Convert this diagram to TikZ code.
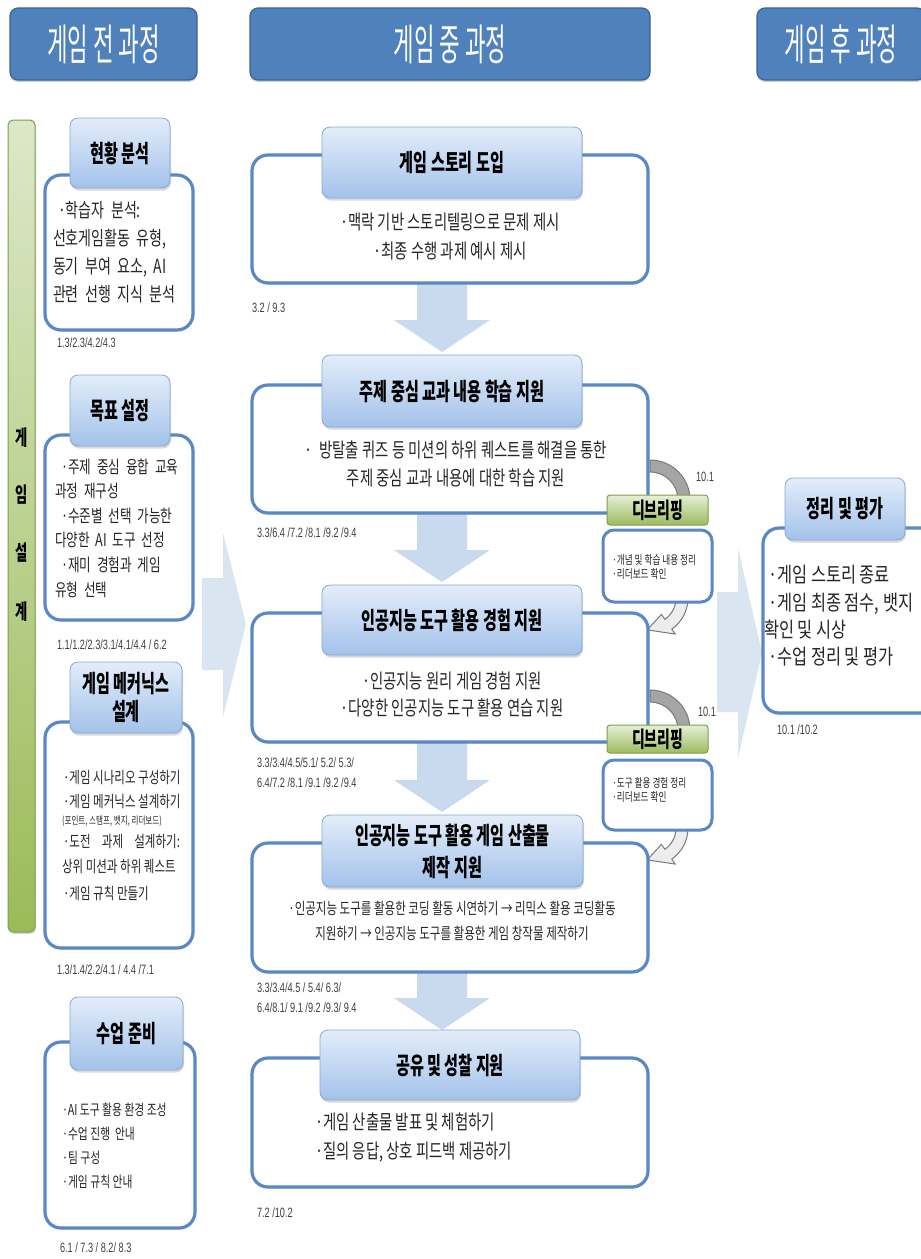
\documentclass[tikz,border=0pt]{standalone}
\usepackage{fontspec}
\usetikzlibrary{calc,shadows}
\newfontfamily\krH[FakeStretch=0.52]{Noto Sans CJK KR}
\newfontfamily\krB[FakeStretch=0.63]{Noto Sans CJK KR}
\newfontfamily\krT[FakeStretch=0.72]{Noto Sans CJK KR}
\newfontfamily\krR[FakeStretch=0.78]{Noto Sans CJK KR}
\newfontfamily\numf[FakeStretch=0.68]{Liberation Sans}
\definecolor{hdrblue}{HTML}{4F81BD}
\definecolor{hdrdark}{HTML}{3B6296}
\definecolor{subtop}{HTML}{E3EDFA}
\definecolor{subbot}{HTML}{A3C2EA}
\definecolor{subline}{HTML}{86A8D6}
\definecolor{bodyblue}{HTML}{5A87C5}
\definecolor{arrowlight}{HTML}{DAE5F2}
\definecolor{arrowmid}{HTML}{C9DAEF}
\definecolor{gbtop}{HTML}{DCE8C8}
\definecolor{gbbot}{HTML}{9BBB59}
\definecolor{gbline}{HTML}{7F9E4C}
\definecolor{dbtop}{HTML}{E6EFD6}
\definecolor{dbbot}{HTML}{9CBC5E}
\definecolor{numgray}{HTML}{404040}
\definecolor{txtdark}{HTML}{262626}
\definecolor{arcdark}{HTML}{A5A5A5}
\definecolor{arcline}{HTML}{7A7A7A}
\definecolor{arclight}{HTML}{EDEDED}
\newcommand\dnarrow[3]{\fill[downarrow] (#1-25,#2) -- (#1+25,#2) -- (#1+25,#3-32) -- (#1+48,#3-32) -- (#1,#3) -- (#1-48,#3-32) -- (#1-25,#3-32) -- cycle;}
\begin{document}
\begin{tikzpicture}[x=1pt,y=-1pt,
  every node/.style={inner sep=0pt, outer sep=0pt},
  topbox/.style={fill=hdrblue, draw=hdrdark, line width=1.2pt, rounded corners=8pt,
     drop shadow={opacity=0.35, shadow xshift=0pt, shadow yshift=-2pt},
     text=white, font=\krH\fontsize{43}{46}\selectfont},
  subhdr/.style={draw=subline, line width=0.8pt, rounded corners=8pt, top color=subtop, bottom color=subbot,
     drop shadow={opacity=0.3, shadow xshift=1pt, shadow yshift=-2.5pt},
     text=black, align=center, font=\krB\bfseries\fontsize{24}{31}\selectfont},
  bodybox/.style={draw=bodyblue, line width=3.2pt, rounded corners=16pt, fill=white,
     drop shadow={opacity=0.2, shadow xshift=1pt, shadow yshift=-1.5pt}},
  smallbody/.style={draw=bodyblue, line width=3pt, rounded corners=11pt, fill=white},
  greenbar/.style={draw=gbline, line width=1pt, rounded corners=5pt, top color=gbtop, bottom color=gbbot,
     drop shadow={opacity=0.3, shadow xshift=1pt, shadow yshift=-2pt}},
  debrief/.style={draw=gbline, line width=1pt, rounded corners=3pt, top color=dbtop, bottom color=dbbot,
     text=black, font=\krB\bfseries\fontsize{22}{26}\selectfont},
  bigarrow/.style={fill=arrowlight, draw=none},
  downarrow/.style={fill=arrowmid, draw=none},
  curvedark/.style={fill=arcdark, draw=arcline, line width=1pt},
  curvelight/.style={fill=arclight, draw=arcline, line width=1pt},
  numtext/.style={font=\numf\fontsize{13.5}{20}\selectfont, text=numgray, anchor=west, align=left},
  bodytext/.style={text=txtdark, font=\krT\fontsize{20}{29}\selectfont},
  bartext/.style={text=black, font=\krB\bfseries\fontsize{21}{24}\selectfont}
]
\useasboundingbox (0,0) rectangle (921,1259);
\fill[white] (0,0) rectangle (921,1259);

% big side arrows
\fill[bigarrow] (202,578) -- (223,578) -- (223,533) -- (246,624) -- (223,717) -- (223,670) -- (202,670) -- cycle;
\fill[bigarrow] (717,592) -- (738,592) -- (738,548) -- (762,653) -- (738,758) -- (738,712) -- (717,712) -- cycle;

% down arrows
\dnarrow{442}{283}{352}
\dnarrow{442}{513}{582}
\dnarrow{442}{742}{812}
\dnarrow{442}{972}{1030}

% curved arrows around debriefing
\coordinate (c1) at (650,500);
\filldraw[curvedark] ($(c1)+(-90:40)$) arc[start angle=-90,end angle=0,radius=40] -- ($(c1)+(0:28)$) arc[start angle=0,end angle=-90,radius=28] -- cycle;
\coordinate (c2) at (650,598);
\filldraw[curvelight] ($(c2)+(0:38)$) arc[start angle=0,end angle=55,radius=38] -- ($(c2)+(55:44)$) -- ($(c2)+(95:32)$) -- ($(c2)+(55:20)$) -- ($(c2)+(55:26)$) arc[start angle=55,end angle=0,radius=26] -- cycle;
\coordinate (c3) at (650,730);
\filldraw[curvedark] ($(c3)+(-90:40)$) arc[start angle=-90,end angle=0,radius=40] -- ($(c3)+(0:28)$) arc[start angle=0,end angle=-90,radius=28] -- cycle;
\coordinate (c4) at (650,828);
\filldraw[curvelight] ($(c4)+(0:38)$) arc[start angle=0,end angle=55,radius=38] -- ($(c4)+(55:44)$) -- ($(c4)+(95:32)$) -- ($(c4)+(55:20)$) -- ($(c4)+(55:26)$) arc[start angle=55,end angle=0,radius=26] -- cycle;

% top headers
\node[topbox, minimum width=187pt, minimum height=72pt] (th1) at (103.5,44) {게임 전 과정};
\node[topbox, minimum width=400pt, minimum height=72pt] (th2) at (450,44) {게임 중 과정};
\node[topbox, minimum width=168pt, minimum height=72pt] (th3) at (841,44) {게임 후 과정};

% green bar
\node[greenbar, minimum width=27pt, minimum height=812pt] (bar) at (21.5,526) {};
\node[bartext] (bar1) at (22,438) {게};
\node[bartext] (bar2) at (22,495) {임};
\node[bartext] (bar3) at (22,553) {설};
\node[bartext] (bar4) at (22,612) {계};

% left column boxes
\node[bodybox, minimum width=148pt, minimum height=155pt] (b1) at (119,252.5) {};
\node[subhdr, minimum width=100pt, minimum height=70pt] (h1) at (120,153) {현황 분석};
\node[bodybox, minimum width=148pt, minimum height=185pt] (b2) at (119,527.5) {};
\node[subhdr, minimum width=100pt, minimum height=71pt] (h2) at (120,410.5) {목표 설정};
\node[bodybox, minimum width=148pt, minimum height=226pt] (b3) at (119,835) {};
\node[subhdr, minimum width=112pt, minimum height=71pt, font=\krB\bfseries\fontsize{24}{28}\selectfont] (h3) at (126,697.5) {게임 메커닉스\\설계};
\node[bodybox, minimum width=150pt, minimum height=186pt] (b4) at (120,1135) {};
\node[subhdr, minimum width=113pt, minimum height=73pt] (h4) at (126.5,1033.5) {수업 준비};

% left texts
\node[bodytext, font=\krT\fontsize{19.5}{28}\selectfont, text width=130pt, align=left] (t1) at (118,252) {%
\makebox[130pt][s]{\hspace*{5pt}·학습자 분석:}\\
\makebox[130pt][s]{선호게임활동 유형,}\\
\makebox[130pt][s]{동기 부여 요소, AI}\\
\makebox[130pt][s]{관련 선행 지식 분석}};
\node[bodytext, font=\krT\fontsize{17.5}{24.6}\selectfont, text width=125pt, align=left] (t2) at (117.5,528) {%
\makebox[125pt][s]{\hspace*{6pt}·주제 중심 융합 교육}\\
과정 재구성\\
\makebox[125pt][s]{\hspace*{6pt}·수준별 선택 가능한}\\
다양한 AI 도구 선정\\
\makebox[125pt][s]{\hspace*{6pt}·재미 경험과 게임}\\
유형 선택};
\node[bodytext, font=\krT\fontsize{16}{20}\selectfont, anchor=west] (t3a) at (63,778) {·게임 시나리오 구성하기};
\node[bodytext, font=\krT\fontsize{16}{20}\selectfont, anchor=west] (t3b) at (63,802) {·게임 메커닉스 설계하기};
\node[bodytext, font=\krT\fontsize{10.5}{12}\selectfont, anchor=west] (t3c) at (62,821) {(포인트, 스탬프, 뱃지, 리더보드)};
\node[bodytext, font=\krT\fontsize{16}{20}\selectfont, anchor=west] (t3d) at (63,841) {\makebox[117pt][s]{·도전 과제 설계하기:}};
\node[bodytext, font=\krT\fontsize{16}{20}\selectfont, anchor=west] (t3e) at (62,867) {상위 미션과 하위 퀘스트};
\node[bodytext, font=\krT\fontsize{16}{20}\selectfont, anchor=west] (t3f) at (63,893) {·게임 규칙 만들기};
\node[bodytext, font=\krT\fontsize{15}{24}\selectfont, anchor=west, align=left] (t4) at (62,1146) {·AI 도구 활용 환경 조성\\·수업 진행 \ 안내\\·팀 구성\\·게임 규칙 안내};

% left numbers
\node[numtext] (n1) at (57,343) {1.3/2.3/4.2/4.3};
\node[numtext] (n2) at (57,645) {1.1/1.2/2.3/3.1/4.1/4.4 / 6.2};
\node[numtext] (n3) at (57,970) {1.3/1.4/2.2/4.1 / 4.4 /7.1};
\node[numtext] (n4) at (60,1248) {6.1 / 7.3 / 8.2/ 8.3};

% middle column boxes
\node[bodybox, minimum width=396pt, minimum height=128pt] (mb1) at (450,219) {};
\node[subhdr, minimum width=260pt, minimum height=71pt] (mh1) at (452,162.5) {게임 스토리 도입};
\node[bodybox, minimum width=396pt, minimum height=128pt] (mb2) at (450,449) {};
\node[subhdr, minimum width=260pt, minimum height=72pt] (mh2) at (452,391) {주제 중심 교과 내용 학습 지원};
\node[bodybox, minimum width=396pt, minimum height=129pt] (mb3) at (450,677.5) {};
\node[subhdr, minimum width=260pt, minimum height=70pt] (mh3) at (452,620) {인공지능 도구 활용 경험 지원};
\node[bodybox, minimum width=396pt, minimum height=129pt] (mb4) at (450,907.5) {};
\node[subhdr, minimum width=261pt, minimum height=72pt, font=\krB\bfseries\fontsize{24}{32}\selectfont] (mh4) at (452.5,851) {인공지능 도구 활용 게임 산출물\\제작 지원};
\node[bodybox, minimum width=396pt, minimum height=129pt] (mb5) at (450,1122.5) {};
\node[subhdr, minimum width=260pt, minimum height=70pt] (mh5) at (450,1065) {공유 및 성찰 지원};

% middle texts
\node[bodytext, align=center] (mt1) at (450,237) {·맥락 기반 스토리텔링으로 문제 제시\\·최종 수행 과제 예시 제시};
\node[bodytext, align=center, font=\krT\fontsize{20}{28}\selectfont] (mt2) at (456,464) {·\ \ 방탈출 퀴즈 등 미션의 하위 퀘스트를 해결을 통한\\주제 중심 교과 내용에 대한 학습 지원};
\node[bodytext, align=center, font=\krT\fontsize{20}{27}\selectfont] (mt3) at (452,694) {·인공지능 원리 게임 경험 지원\\·다양한 인공지능 도구 활용 연습 지원};
\node[bodytext, align=center, font=\krT\fontsize{16}{25}\selectfont] (mt4) at (452,920.5) {·인공지능 도구를 활용한 코딩 활동 시연하기 → 리믹스 활용 코딩활동\\지원하기 → 인공지능 도구를 활용한 게임 창작물 제작하기};
\node[bodytext, anchor=west, align=left] (mt5) at (315,1137.5) {·게임 산출물 발표 및 체험하기\\·질의 응답, 상호 피드백 제공하기};

% middle numbers
\node[numtext] (mn1) at (252,308) {3.2 / 9.3};
\node[numtext] (mn2) at (257,533) {3.3/6.4 /7.2 /8.1 /9.2 /9.4};
\node[numtext] (mn3) at (257,773) {3.3/3.4/4.5/5.1/ 5.2/ 5.3/\\6.4/7.2 /8.1 /9.1 /9.2 /9.4};
\node[numtext] (mn4) at (257,998) {3.3/3.4/4.5 / 5.4/ 6.3/\\6.4/8.1/ 9.1 /9.2 /9.3/ 9.4};
\node[numtext] (mn5) at (257,1213) {7.2 /10.2};

% debriefing
\node[debrief, minimum width=101pt, minimum height=30pt] (dg1) at (657.5,510) {디브리핑};
\node[smallbody, minimum width=109pt, minimum height=72pt] (db1) at (657.5,566) {};
\node[bodytext, font=\krT\fontsize{12}{14.5}\selectfont, anchor=west, align=left] (dt1) at (612,567) {·개념 및 학습 내용 정리\\·리더보드 확인};
\node[debrief, minimum width=101pt, minimum height=28pt] (dg2) at (657.5,739) {디브리핑};
\node[smallbody, minimum width=109pt, minimum height=70pt] (db2) at (657.5,795) {};
\node[bodytext, font=\krT\fontsize{12}{14.5}\selectfont, anchor=west, align=left] (dt2) at (612,790) {·도구 활용 경험 정리\\·리더보드 확인};
\node[numtext] (dn1) at (696,477) {10.1};
\node[numtext] (dn2) at (698,712) {10.1};

% right column
\node[bodybox, minimum width=177pt, minimum height=185pt] (rb) at (851.5,620.5) {};
\node[subhdr, minimum width=120pt, minimum height=62pt] (rh) at (845,509) {정리 및 평가};
\node[bodytext, anchor=west, align=left, font=\krR\fontsize{21}{27.3}\selectfont] (rt) at (764,616) {\hspace*{4pt}·게임 스토리 종료\\\hspace*{4pt}·게임 최종 점수, 뱃지\\확인 및 시상\\\hspace*{4pt}·수업 정리 및 평가};
\node[numtext] (rn) at (777,730) {10.1 /10.2};
\end{tikzpicture}
\end{document}
